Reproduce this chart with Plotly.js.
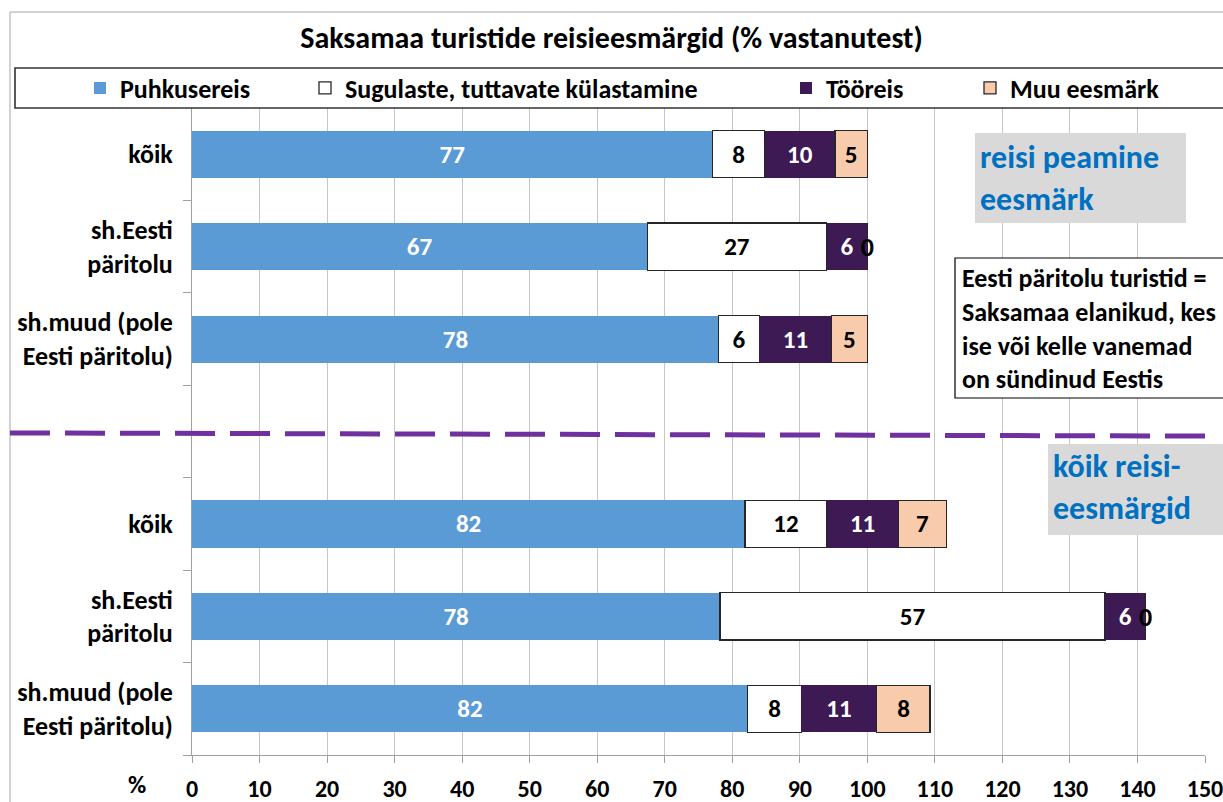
<!DOCTYPE html>
<html>
<head>
<meta charset="utf-8">
<script src="https://cdn.plot.ly/plotly-3.0.1.min.js"></script>
<style>html,body{margin:0;padding:0;background:#fff;}#chart{width:1223px;height:802px;}</style>
</head>
<body>
<div id="chart"></div>
<script>
// ---- data ----
const chartTitle = 'Saksamaa turistide reisieesmärgid (% vastanutest)';
const categories = ['kõik', 'sh.Eesti<br>päritolu', 'sh.muud (pole<br>Eesti päritolu)',
                    'kõik', 'sh.Eesti<br>päritolu', 'sh.muud (pole<br>Eesti päritolu)'];
const seriesNames = ['Puhkusereis', 'Sugulaste, tuttavate külastamine', 'Tööreis', 'Muu eesmärk'];
const puhkusereis = [77.1, 67.4, 78.0, 81.9, 78.2, 82.3];
const sugulaste   = [7.7, 26.6, 6.0, 12.1, 57.0, 7.9];
const tooreis     = [10.4, 6.0, 10.7, 10.6, 6.0, 11.2];
const muu         = [4.8, 0, 5.3, 7.1, 0, 7.9];
const xTicks = [0,10,20,30,40,50,60,70,80,90,100,110,120,130,140,150];
const groupLabel1 = 'reisi peamine<br>eesmärk';
const groupLabel2 = 'kõik reisi-<br>eesmärgid';
const noteText = 'Eesti päritolu turistid =<br>Saksamaa elanikud, kes<br>ise või kelle vanemad<br>on sündinud Eestis';

// ---- layout helpers ----
const FONT = "Carlito, Calibri, 'Liberation Sans Narrow', 'DejaVu Sans Condensed', sans-serif";
const L = 192, R = 1205, T = 108, B = 755, W = 1223, H = 802;
const fx = px => (px - L) / (R - L);
const fy = py => 1 - (py - T) / (B - T);
// row slots: three rows, one empty slot, three rows
const rowPos = categories.map((c, i) => i < 3 ? i + 0.5 : i + 1.5);

const allSeries = [puhkusereis, sugulaste, tooreis, muu];
const fills = ['#5B9BD5', '#FFFFFF', '#3D1A54', '#F8CBAD'];
const lines = [{width:0}, {color:'#262626', width:1.3}, {width:0}, {color:'#262626', width:1.3}];
const textColors = ['#FFFFFF', '#000000', '#FFFFFF', '#000000'];
const legendIds = ['legend', 'legend2', 'legend3', 'legend4'];
const legendTextStart = [120, 345, 826, 1010];

const traces = allSeries.map((vals, k) => ({
  type: 'bar', orientation: 'h', name: seriesNames[k],
  x: vals, y: rowPos, width: 0.51,
  marker: {color: fills[k], line: lines[k]},
  text: vals.map(v => v > 0 ? String(Math.round(v)) : ''),
  textposition: 'inside', insidetextanchor: 'middle', constraintext: 'none', textangle: 0,
  textfont: {family: FONT, size: 25, weight: 'bold', color: textColors[k]},
  legend: legendIds[k], hoverinfo: 'skip', cliponaxis: false
}));

// labels for zero-size segments, placed at the stack position
const zx = [], zy = [], zt = [];
rowPos.forEach((y, i) => {
  let cum = 0;
  allSeries.forEach(vals => {
    if (vals[i] === 0) { zx.push(cum); zy.push(y + 0.03); zt.push('0'); }
    cum += vals[i];
  });
});
traces.push({
  type: 'scatter', mode: 'text', x: zx, y: zy, text: zt,
  textposition: 'middle center', showlegend: false, hoverinfo: 'skip', cliponaxis: false,
  textfont: {family: FONT, size: 26, weight: 'bold', color: '#000'}
});

const legendCommon = {
  orientation: 'h', xanchor: 'left', yanchor: 'middle', y: fy(88),
  bgcolor: 'rgba(0,0,0,0)', borderwidth: 0,
  font: {family: FONT, size: 26, weight: 'bold', color: '#000'},
  itemclick: false, itemdoubleclick: false
};

const layout = {
  width: W, height: H,
  margin: {l: L, r: W - R, t: T, b: H - B, pad: 0},
  paper_bgcolor: '#fff', plot_bgcolor: '#fff',
  barmode: 'stack', bargap: 0,
  font: {family: FONT, color: '#000'},
  title: {text: chartTitle, x: 0.5, xref: 'container', xanchor: 'center',
          y: 1 - 37 / H, yref: 'container', yanchor: 'middle',
          font: {family: FONT, size: 30, weight: 'bold', color: '#000'}},
  xaxis: {
    range: [0, 150], tickvals: xTicks, ticktext: xTicks.map(String),
    showgrid: true, gridcolor: '#C6C6C6', gridwidth: 1,
    zeroline: false, showline: true, linecolor: '#A0A0A0', linewidth: 1,
    ticks: 'outside', ticklen: 7, tickcolor: '#A0A0A0',
    ticklabeloverflow: 'allow', ticklabelstandoff: 5,
    tickfont: {family: FONT, size: 24, weight: 'bold', color: '#000'},
    fixedrange: true
  },
  yaxis: {
    range: [7, 0], tickvals: rowPos, ticktext: categories,
    showgrid: false, zeroline: false, showline: true, linecolor: '#A0A0A0', linewidth: 1,
    ticks: '', ticklabelstandoff: 13,
    tickfont: {family: FONT, size: 26, weight: 'bold', color: '#000'},
    minor: {tickvals: [1,2,3,4,5,6,7], ticks: 'outside', ticklen: 8, tickcolor: '#A0A0A0', showgrid: false},
    fixedrange: true
  },
  shapes: [
    // outer chart border
    {type: 'rect', xref: 'paper', yref: 'paper', x0: fx(10), x1: fx(1240), y0: fy(12), y1: fy(830),
     line: {color: '#A6A6A6', width: 1}, fillcolor: 'rgba(0,0,0,0)', layer: 'above'},
    // legend box
    {type: 'rect', xref: 'paper', yref: 'paper', x0: fx(15), x1: fx(1240), y0: fy(68), y1: fy(108),
     line: {color: '#333333', width: 1.6}, fillcolor: '#FFFFFF', layer: 'above'},
    // divider
    {type: 'line', xref: 'paper', yref: 'y', x0: fx(10), x1: fx(1210), y0: 3.515, y1: 3.55,
     line: {color: '#7030A0', width: 5, dash: '40px,15px'}, layer: 'above'},
    // grey label boxes
    {type: 'rect', xref: 'paper', yref: 'paper', x0: fx(975), x1: fx(1186), y0: fy(133), y1: fy(223),
     line: {width: 0}, fillcolor: '#D9D9D9', layer: 'above'},
    {type: 'rect', xref: 'paper', yref: 'paper', x0: fx(1048), x1: fx(1240), y0: fy(444), y1: fy(535),
     line: {width: 0}, fillcolor: '#D9D9D9', layer: 'above'},
    // note box
    {type: 'rect', xref: 'paper', yref: 'paper', x0: fx(955), x1: fx(1240), y0: fy(258), y1: fy(398),
     line: {color: '#000000', width: 1.2}, fillcolor: '#FFFFFF', layer: 'above'}
  ],
  annotations: [
    {xref: 'paper', yref: 'paper', x: fx(978), y: fy(178), xanchor: 'left', yanchor: 'middle', align: 'left',
     text: groupLabel1, showarrow: false, font: {family: FONT, size: 32, weight: 'bold', color: '#0070C0'}},
    {xref: 'paper', yref: 'paper', x: fx(1051), y: fy(487), xanchor: 'left', yanchor: 'middle', align: 'left',
     text: groupLabel2, showarrow: false, font: {family: FONT, size: 32, weight: 'bold', color: '#0070C0'}},
    {xref: 'paper', yref: 'paper', x: fx(960), y: fy(328), xanchor: 'left', yanchor: 'middle', align: 'left',
     text: noteText, showarrow: false, font: {family: FONT, size: 26, weight: 'bold', color: '#000'}},
    {xref: 'paper', yref: 'paper', x: fx(137), y: fy(784), xanchor: 'center', yanchor: 'middle',
     text: '%', showarrow: false, font: {family: FONT, size: 25, weight: 'bold', color: '#000'}}
  ],
  showlegend: true
};
legendIds.forEach((id, k) => {
  layout[id] = Object.assign({}, legendCommon, {x: fx(legendTextStart[k] - 40)});
});

Plotly.newPlot('chart', traces, layout, {displayModeBar: false, staticPlot: true});
</script>
</body>
</html>
